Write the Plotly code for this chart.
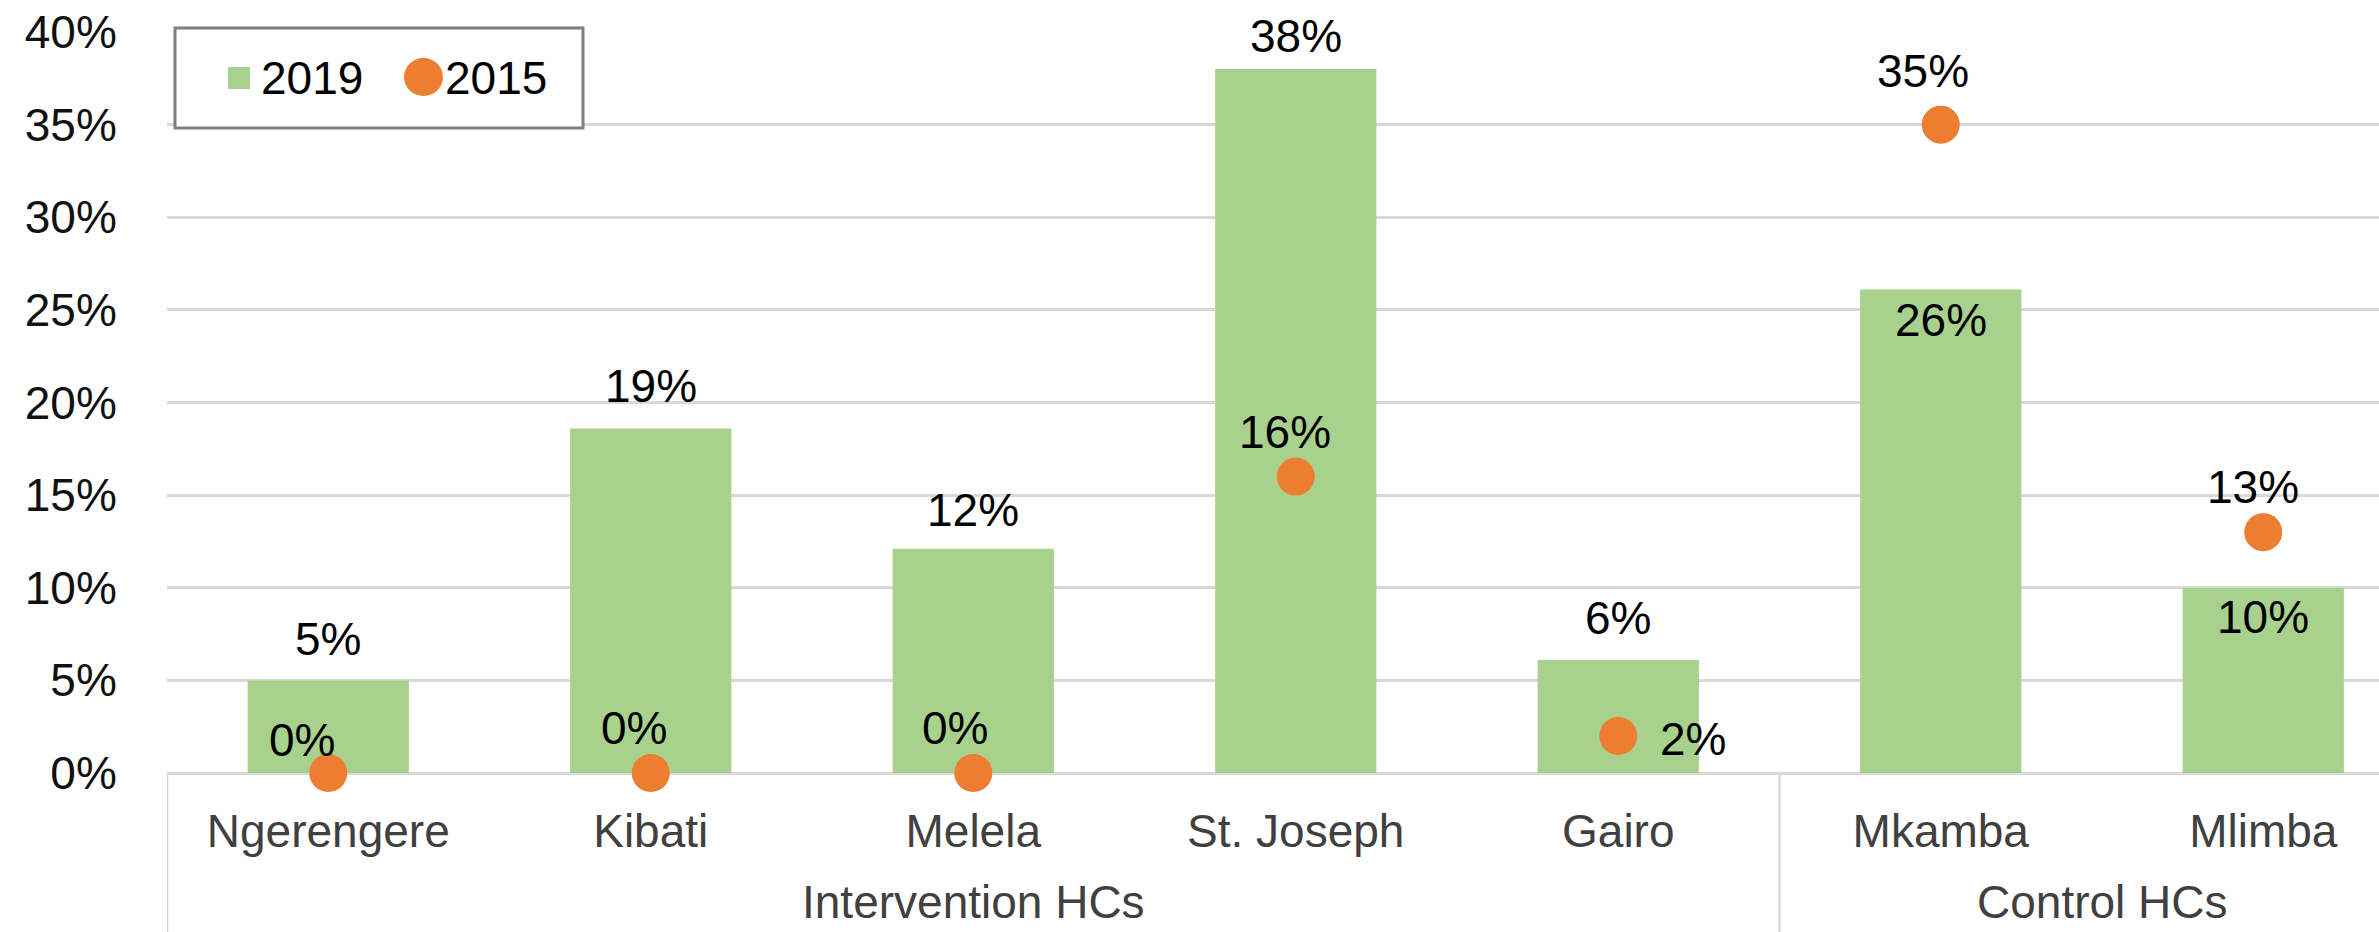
import plotly.graph_objects as go

# ---------------- data ----------------
categories = ["Ngerengere", "Kibati", "Melela", "St. Joseph", "Gairo", "Mkamba", "Mlimba"]
groups = ["Intervention HCs"] * 5 + ["Control HCs"] * 2
values_2019 = [0.05, 0.186, 0.121, 0.38, 0.061, 0.261, 0.10]
values_2015 = [0.0, 0.0, 0.0, 0.16, 0.02, 0.35, 0.13]
series_names = ["2019", "2015"]
y_ticks = [0, 0.05, 0.10, 0.15, 0.20, 0.25, 0.30, 0.35, 0.40]

# ---------------- style ----------------
GREEN = "#A9D18E"
ORANGE = "#ED7D31"
GRID = "#D9D9D9"
FONT = "Liberation Sans, Arial, sans-serif"
FS = 46

W, H = 2379, 932
L, T, B = 167, 32, 159          # plot area margins (px)
PW = W - L
PH = H - T - B
YMAX = 0.40
SLOT = 322.5                     # px per category slot


def xp(px):
    return (px - L) / PW


def yp(py):
    return (H - B - py) / PH


# label offsets (px): 2019 bars -> vertical shift of label centre from bar top
shift_2019 = [41, 42, 39, 33, 42, -30, -29]
# 2015 points -> (xshift, yshift, anchor)
shift_2015 = [(-26, 33, "center"), (-17, 45, "center"), (-18, 45, "center"),
              (-11, 45, "center"), (40, -3, "left"), (-18, 54, "center"),
              (-10, 45, "center")]

fig = go.Figure()
fig.add_trace(go.Bar(
    x=categories, y=values_2019, name=series_names[0],
    marker=dict(color=GREEN, line=dict(width=0)), width=0.5,
    showlegend=False,
))
fig.add_trace(go.Scatter(
    x=categories, y=values_2015, name=series_names[1], mode="markers",
    marker=dict(color=ORANGE, size=38, line=dict(width=0)),
    cliponaxis=False, showlegend=False,
))

annotations = []
for c, v, s in zip(categories, values_2019, shift_2019):
    annotations.append(dict(x=c, y=v, xref="x", yref="y", text=f"{v:.0%}",
                            showarrow=False, yanchor="middle", xanchor="center",
                            yshift=s, font=dict(family=FONT, size=FS, color="#000000")))
for c, v, (dx, dy, anc) in zip(categories, values_2015, shift_2015):
    annotations.append(dict(x=c, y=v, xref="x", yref="y", text=f"{v:.0%}",
                            showarrow=False, yanchor="middle", xanchor=anc,
                            xshift=dx, yshift=dy,
                            font=dict(family=FONT, size=FS, color="#000000")))

# group labels (second level of category axis)
seen = []
for g in groups:
    if g not in seen:
        seen.append(g)
for g in seen:
    idx = [i for i, gg in enumerate(groups) if gg == g]
    centre = sum(idx) / len(idx)
    annotations.append(dict(x=centre, y=yp(902), xref="x", yref="paper", text=g,
                            showarrow=False, yanchor="middle", xanchor="center",
                            font=dict(family=FONT, size=FS, color="#404040")))

shapes = []
# group separators
bounds = [-0.5]
for i in range(1, len(groups)):
    if groups[i] != groups[i - 1]:
        bounds.append(i - 0.5)
for bx in bounds:
    shapes.append(dict(type="line", xref="x", yref="paper", x0=bx, x1=bx,
                       y0=0, y1=yp(H + 5), line=dict(color=GRID, width=2.5), layer="below"))

# manual legend
shapes.append(dict(type="rect", xref="paper", yref="paper",
                   x0=xp(175), x1=xp(583), y0=yp(128), y1=yp(28),
                   line=dict(color="#7F7F7F", width=3), fillcolor="white", layer="above"))
shapes.append(dict(type="rect", xref="paper", yref="paper",
                   x0=xp(228), x1=xp(250), y0=yp(89), y1=yp(67),
                   line=dict(width=0), fillcolor=GREEN, layer="above"))
shapes.append(dict(type="circle", xref="paper", yref="paper",
                   x0=xp(404), x1=xp(443), y0=yp(96), y1=yp(58),
                   line=dict(width=0), fillcolor=ORANGE, layer="above"))
annotations.append(dict(x=xp(259), y=yp(78), xref="paper", yref="paper", text=series_names[0],
                        showarrow=False, xanchor="left", yanchor="middle",
                        font=dict(family=FONT, size=FS, color="#000000")))
annotations.append(dict(x=xp(443), y=yp(78), xref="paper", yref="paper", text=series_names[1],
                        showarrow=False, xanchor="left", yanchor="middle",
                        font=dict(family=FONT, size=FS, color="#000000")))

fig.update_layout(
    width=W, height=H,
    margin=dict(l=L, r=0, t=T, b=B, pad=0),
    paper_bgcolor="white", plot_bgcolor="white",
    font=dict(family=FONT, size=FS, color="#000000"),
    bargap=0.5,
    annotations=annotations,
    shapes=shapes,
    showlegend=False,
)
fig.update_xaxes(
    range=[-0.5, -0.5 + PW / SLOT],
    showgrid=False, showline=False, zeroline=False,
    ticks="outside", ticklen=18, tickcolor="rgba(0,0,0,0)",
    tickfont=dict(family=FONT, size=FS, color="#404040"),
)
fig.update_yaxes(
    range=[0, YMAX], tickvals=y_ticks, tickformat=".0%",
    showgrid=True, gridcolor=GRID, gridwidth=2.5,
    zeroline=True, zerolinecolor=GRID, zerolinewidth=2.5,
    showline=False,
    ticks="outside", ticklen=40, tickcolor="rgba(0,0,0,0)",
    tickfont=dict(family=FONT, size=FS, color="#111111"),
)

fig.write_html("out.html")
